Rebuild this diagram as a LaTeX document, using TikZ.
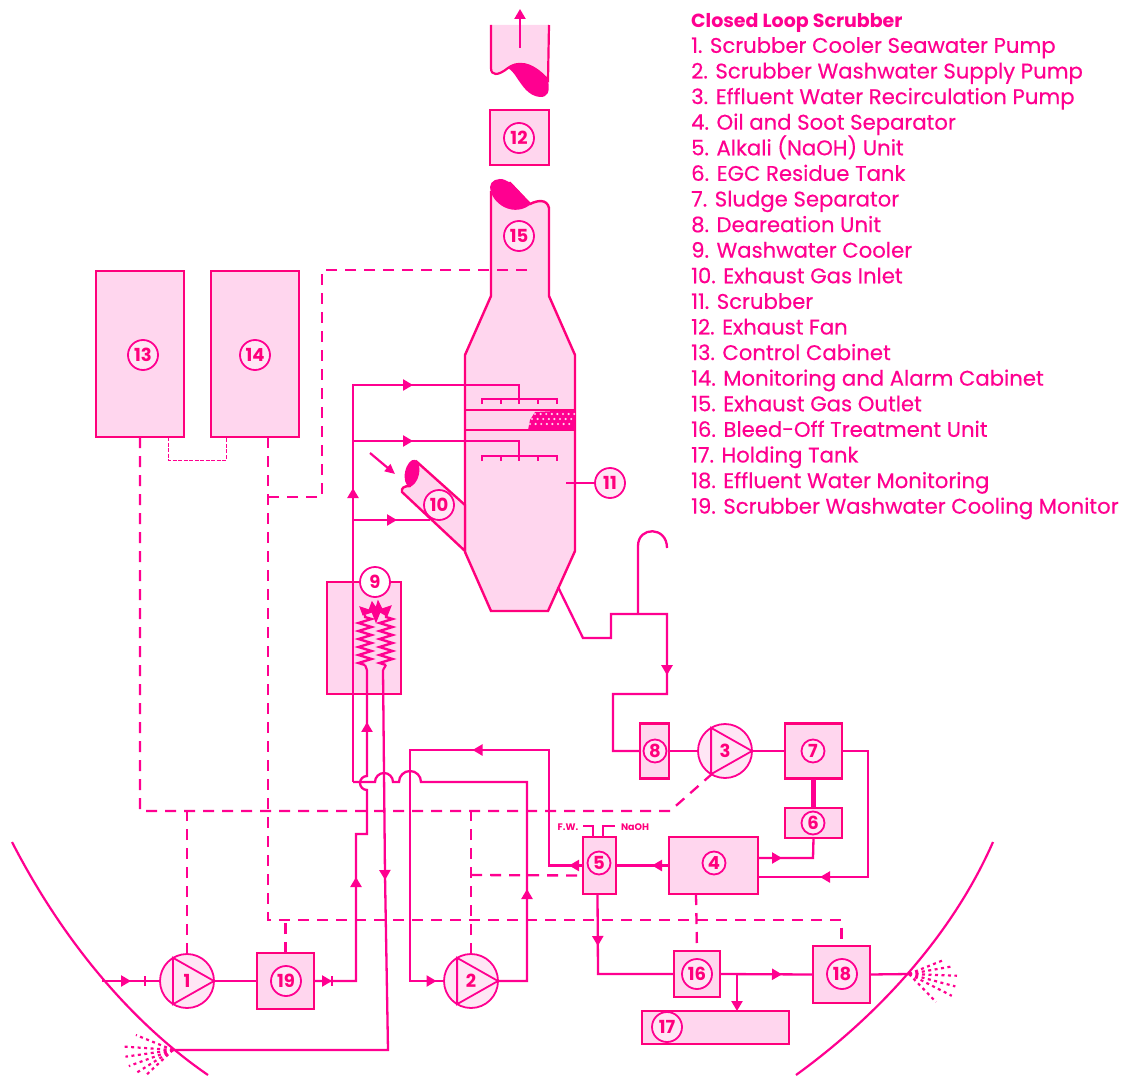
\documentclass[tikz,border=0pt]{standalone}
\usepackage{fontspec}
\setmainfont{Poppins}
\newfontfamily\legendfont{Poppins}[FakeBold=0.4]
\usetikzlibrary{arrows.meta,decorations.markings,decorations.pathmorphing}
\definecolor{pinkline}{HTML}{FF0090}
\definecolor{pinkedge}{HTML}{FF007C}
\definecolor{pinkfill}{HTML}{FFD6EE}
\definecolor{pinklite}{HTML}{FFE6F5}
\tikzset{
  unitbox/.style={draw=pinkedge, fill=pinkfill, line width=2.4pt, inner sep=0pt, outer sep=0pt},
  numtag/.style={circle, draw=pinkline, fill=pinklite, line width=1.8pt, inner sep=0pt, outer sep=0pt, minimum size=30pt, text=pinkedge, font=\fontsize{18}{18}\selectfont\bfseries},
  smalltag/.style={numtag, minimum size=23pt},
  pumpnode/.style={numtag, minimum size=54pt},
  pipe/.style={draw=pinkline, line width=2.3pt},
  ctrl/.style={draw=pinkline, line width=2.3pt, dash pattern=on 11pt off 8pt},
  spray/.style={draw=pinkline, line width=2.2pt, dash pattern=on 3pt off 3.5pt},
  flow/.style={postaction={decorate, decoration={markings, mark=at position #1 with {\arrow{Triangle[length=10pt,width=11pt]}}}}},
}
\begin{document}
\begin{tikzpicture}[x=1pt,y=-1pt]
    \useasboundingbox (0,0) rectangle (1129,1078);

    % Legend
    \node[anchor=north west, inner sep=0pt, align=left, text=pinkline, font=\fontsize{21.2}{25.6}\selectfont\legendfont] (legend) at (691,13) {%
{\fontsize{19}{25.6}\selectfont\rmfamily\bfseries Closed Loop Scrubber}\\
1. Scrubber Cooler Seawater Pump\\
2. Scrubber Washwater Supply Pump\\
3. Effluent Water Recirculation Pump\\
4. Oil and Soot Separator\\
5. Alkali (NaOH) Unit\\
6. EGC Residue Tank\\
7. Sludge Separator\\
8. Deareation Unit\\
9. Washwater Cooler\\
10. Exhaust Gas Inlet\\
11. Scrubber\\
12. Exhaust Fan\\
13. Control Cabinet\\
14. Monitoring and Alarm Cabinet\\
15. Exhaust Gas Outlet\\
16. Bleed-Off Treatment Unit\\
17. Holding Tank\\
18. Effluent Water Monitoring\\
19. Scrubber Washwater Cooling Monitor
    };

    % Funnel pieces
    \draw[draw=pinkedge, fill=pinkfill, line width=2.2pt] (491,25) -- (491,68) .. controls (491,76) and (498,76) .. (508,68) .. controls (516,62) and (530,60) .. (548,80) -- (549,25);
    \fill[pinkline] (508,68) .. controls (516,61) and (532,60) .. (548,80) .. controls (550,92) and (548,97) .. (540,97) .. controls (528,96) and (522,85) .. (517,78) .. controls (514,73) and (511,70) .. (508,68) -- cycle;
    \draw[draw=pinkline, line width=2.2pt, -{Triangle[length=10pt,width=11pt]}] (520,48) -- (520,9);

    % Scrubber body
    \draw[draw=pinkedge, fill=pinkfill, line width=2.4pt] (491,192) -- (491,296) -- (465,355) -- (465,552) -- (491,611) -- (548,611) -- (575,551) -- (575,355) -- (549,296) -- (549,208) .. controls (547,199) and (538,200) .. (530,204) -- (510,183) -- cycle;
    \fill[pinkline] (490,187) .. controls (490,181) and (498,177) .. (505,180) .. controls (515,184) and (522,196) .. (531,204) .. controls (524,210) and (514,212) .. (504,207) .. controls (497,203) and (491,197) .. (490,187) -- cycle;

    % Packing band
    \draw[draw=pinkedge, line width=2.4pt] (465,410) -- (575,410) (465,430) -- (575,430);
    \fill[pinkline] (528,430) -- (530,420) -- (535,412) -- (575,410) -- (575,430) -- cycle;
    \foreach \rowy/\rowx in {414/535, 419/532, 424/530}
      \foreach \dotn in {0,...,7}
        \fill[pinkfill] (\rowx+\dotn*5.6,\rowy) circle [radius=1.2pt];

    % Gas inlet
    \draw[draw=pinkedge, fill=pinkfill, line width=2.4pt] (417,462) -- (465,505) -- (465,551) -- (402,492) .. controls (401,488) and (404,486) .. (410,486) -- cycle;
    \fill[pinkline, rotate around={-12:(412,473)}] (412,473) ellipse [x radius=7pt, y radius=13.5pt];
    \draw[draw=pinkline, line width=2.2pt, -{Triangle[length=10pt,width=9pt]}] (370,453) -- (395,474);

    % Units
    \node[unitbox, minimum width=59pt, minimum height=55pt] (fan) at (519.5,137.5) {};
    \node[unitbox, minimum width=88pt, minimum height=166pt] (control) at (140,354) {};
    \node[unitbox, minimum width=88pt, minimum height=166pt] (alarm) at (255,354) {};
    \node[unitbox, minimum width=74pt, minimum height=112pt] (cooler) at (364,638) {};
    \node[unitbox, minimum width=29pt, minimum height=55pt] (deair) at (654.5,751) {};
    \node[unitbox, minimum width=57pt, minimum height=55pt] (sludge) at (813.5,751) {};
    \node[unitbox, minimum width=57pt, minimum height=30pt] (residue) at (813.5,823) {};
    \node[unitbox, minimum width=89pt, minimum height=57pt] (oilsep) at (713.5,865.5) {};
    \node[unitbox, minimum width=33pt, minimum height=57pt] (alkali) at (599.5,865.5) {};
    \node[unitbox, minimum width=57pt, minimum height=56pt] (coolmon) at (285.5,981) {};
    \node[unitbox, minimum width=46pt, minimum height=46pt] (bleed) at (697,974) {};
    \node[unitbox, minimum width=57pt, minimum height=57pt] (effmon) at (841.5,974.5) {};
    \node[unitbox, minimum width=147pt, minimum height=33pt] (holding) at (715.5,1027.5) {};

    % Pumps
    \node[pumpnode] (pumpa) at (187,981) {1};
    \node[pumpnode] (pumpb) at (471,981) {2};
    \node[pumpnode] (pumpc) at (725,751) {3};
    \foreach \pumpname in {pumpa,pumpb,pumpc}
      \draw[draw=pinkline, line width=1.8pt] (\pumpname.121) -- (\pumpname.east) -- (\pumpname.239) -- cycle;

    % Number tags
    \node[smalltag] (tagfour) at (714,863) {4};
    \node[smalltag] (tagfive) at (599,863) {5};
    \node[smalltag] (tagsix) at (813,823) {6};
    \node[smalltag] (tagseven) at (813,751) {7};
    \node[smalltag] (tageight) at (655,751) {8};
    \node[numtag, fill=white] (tagnine) at (375,582) {9};
    \node[numtag] (tagten) at (439,505) {10};
    \node[numtag] (tageleven) at (610,483) {11};
    \node[numtag] (tagtwelve) at (519,138) {12};
    \node[numtag] (tagthirteen) at (143,355) {13};
    \node[numtag] (tagfourteen) at (255,355) {14};
    \node[numtag] (tagfifteen) at (519,236) {15};
    \node[numtag] (tagsixteen) at (697,974) {16};
    \node[numtag] (tagseventeen) at (667,1027) {17};
    \node[numtag] (tageighteen) at (842,974) {18};
    \node[numtag] (tagnineteen) at (286,981) {19};

    % Small feed labels
    \node[text=pinkedge, inner sep=0pt, font=\fontsize{9.5}{9.5}\selectfont\bfseries] (feedfw) at (568,827) {F.W.};
    \node[text=pinkedge, inner sep=0pt, font=\fontsize{9.5}{9.5}\selectfont\bfseries] (feednaoh) at (635,827) {NaOH};

    % Free ends
    \coordinate (intake) at (102,981);
    \coordinate (discharge) at (173,1050);
    \coordinate (overboard) at (909,974);
    \coordinate (risebase) at (353,782);
    \coordinate (tapupper) at (353,441);
    \coordinate (tapinlet) at (353,520);
    \coordinate (sprayupper) at (519,399);
    \coordinate (spraylower) at (519,456);
    \coordinate (inletend) at (430,520);
    \coordinate (coilain) at (367,670);
    \coordinate (coilbout) at (383,670);
    \coordinate (drain) at (558,587);
    \coordinate (hooktap) at (638,614);
    \coordinate (hookend) at (667,548);
    \coordinate (branchend) at (737,1011);
    \coordinate (branchtap) at (737,974);
    \coordinate (tickin) at (145,981);
    \coordinate (tickout) at (332,981);
    \coordinate (elevenlead) at (566,483);
    \coordinate (busa) at (140,811);
    \coordinate (busb) at (268,920);
    \coordinate (busatap) at (471,875);
    \coordinate (alarmtap) at (268,497);
    \coordinate (stackprobe) at (527,270);

    % Spray headers
    \foreach \headery in {399,456} {
      \draw[draw=pinkline, line width=1.5pt] (482,\headery+5) -- (482,\headery) -- (557,\headery) -- (557,\headery+5);
      \foreach \tickx in {501,519,538}
        \draw[draw=pinkline, line width=1.5pt] (\tickx,\headery) -- (\tickx,\headery+5);
    }

    % Coils
    \draw[draw=pinkline, line width=2.4pt, decorate, decoration={zigzag, segment length=8pt, amplitude=6.5pt}] (365,665) -- (365,615);
    \draw[draw=pinkline, line width=2.4pt, decorate, decoration={zigzag, segment length=8pt, amplitude=6.5pt}] (386,665) -- (386,615);
    \draw[draw=pinkline, line width=2.2pt] (coilain) -- (365,665) (coilbout) -- (386,665);
    \filldraw[draw=pinkline, fill=pinkline, line width=1pt] (363,615) -- (360,607) -- (369,610) -- (372,602) -- (376,608) -- (378,601) -- (382,609) -- (391,606) -- (387,616) -- (380,612) -- (376,622) -- (372,612) -- cycle;

    % Pipework
    \draw[pipe, flow=29pt] (intake) -- (pumpa.west);
    \draw[pipe] (pumpa.east) -- (coolmon.west);
    \draw[pipe, flow=18pt, flow=146pt, flow=320pt] (coolmon.east) -- (356,981) -- (356,834) -- (367,834) -- (367,790) arc [start angle=270, end angle=90, radius=7pt] -- (coilain);
    \draw[pipe, flow=210pt] (coilbout) -- (385,875) -- (388,1050) -- (discharge);
    \draw[pipe, flow=121pt] (pumpb.east) -- (527,981) -- (527,782) -- (421,782) arc [start angle=0, end angle=180, radius=11pt] -- (393,782) arc [start angle=0, end angle=180, radius=9pt] -- (risebase);
    \draw[pipe, flow=294pt, flow=457pt] (risebase) -- (353,385) -- (519,385) -- (sprayupper);
    \draw[pipe, flow=60pt] (tapupper) -- (519,441) -- (spraylower);
    \draw[pipe, flow=44pt] (tapinlet) -- (inletend);
    \draw[pipe, flow=14pt, flow=226pt, flow=546pt] (alkali.west) -- (549,865.5) -- (549,750) -- (410,750) -- (410,981) -- (pumpb.west);
    \draw[pipe, flow=17pt] (oilsep.west) -- (alkali.east);
    \draw[pipe, flow=200pt] (sludge.east) -- (868,751) -- (868,877) -- ([yshift=-11.5pt]oilsep.east);
    \draw[pipe, flow=24pt] ([yshift=7.5pt]oilsep.east) -- (813,858) -- (residue.south);
    \draw[pipe, line width=4.5pt] (sludge.south) -- (residue.north);
    \draw[pipe] (deair.east) -- (pumpc.west);
    \draw[pipe] (pumpc.east) -- (sludge.west);
    \draw[pipe, flow=226pt] (drain) -- (583,638) -- (611,638) -- (611,614) -- (667,614) -- (667,694) -- (613,694) -- (613,751) -- (deair.west);
    \draw[pipe] (hooktap) -- (638,546) .. controls (638,526) and (667,526) .. (hookend);
    \draw[pipe, flow=52pt] ([xshift=-2pt]alkali.south) -- (598,974) -- (bleed.west);
    \draw[pipe, flow=62pt] (bleed.east) -- (effmon.west);
    \draw[pipe, -{Triangle[length=10pt,width=11pt]}] (branchtap) -- (branchend);
    \draw[pipe] (effmon.east) -- (overboard);
    \draw[pipe] ([xshift=-6.5pt]alkali.north) -- (593,826) -- (583,826);
    \draw[pipe] ([xshift=3.5pt]alkali.north) -- (603,826) -- (615,826);
    \draw[pipe] (elevenlead) -- (tageleven.west);
    \draw[pipe, line width=1.4pt] ([yshift=5pt]tickin) -- ([yshift=-5pt]tickin);
    \draw[pipe, line width=1.4pt] ([yshift=5pt]tickout) -- ([yshift=-5pt]tickout);

    % Control wiring
    \draw[ctrl] (control.south) -- (busa) -- (670,811) -- (pumpc.240);
    \draw[ctrl] (pumpa.north) -- (pumpa.north |- busa);
    \draw[ctrl] (pumpb.north) -- (pumpb.north |- busa);
    \draw[ctrl] (busatap) -- ([yshift=-10pt]alkali.west);
    \draw[ctrl] ([xshift=13pt]alarm.south) -- (busb) -- (effmon.north |- busb) -- (effmon.north);
    \draw[ctrl] (coolmon.north) -- (coolmon.north |- busb);
    \draw[ctrl] ([xshift=-17.5pt]oilsep.south) -- (bleed.north);
    \draw[ctrl] (stackprobe) -- (322,270) -- (322,497) -- (alarmtap);
    \draw[draw=pinkline, line width=1pt, dash pattern=on 4pt off 1.5pt] ([xshift=28pt]control.south) -- (168,460) -- (226,460) -- ([xshift=-29pt]alarm.south);

    % Hull
    \draw[draw=pinkline, line width=2.2pt] (12,842) .. controls (65,945) and (135,1025) .. (208,1075);
    \draw[draw=pinkline, line width=2.2pt] (993,842) .. controls (950,940) and (872,1020) .. (796,1075);

    % Overboard sprays
    \foreach \sprayang/\spraylen in {158/40, 176/50, 188/48, 200/47, 212/42, 223/36}
      \draw[spray] (discharge) -- ++(\sprayang:\spraylen pt);
    \foreach \sprayang/\spraylen in {22/37, 10/42, -2/48, -15/48, -27/48, -46/39}
      \draw[spray] (overboard) -- ++(\sprayang:\spraylen pt);
\end{tikzpicture}
\end{document}
